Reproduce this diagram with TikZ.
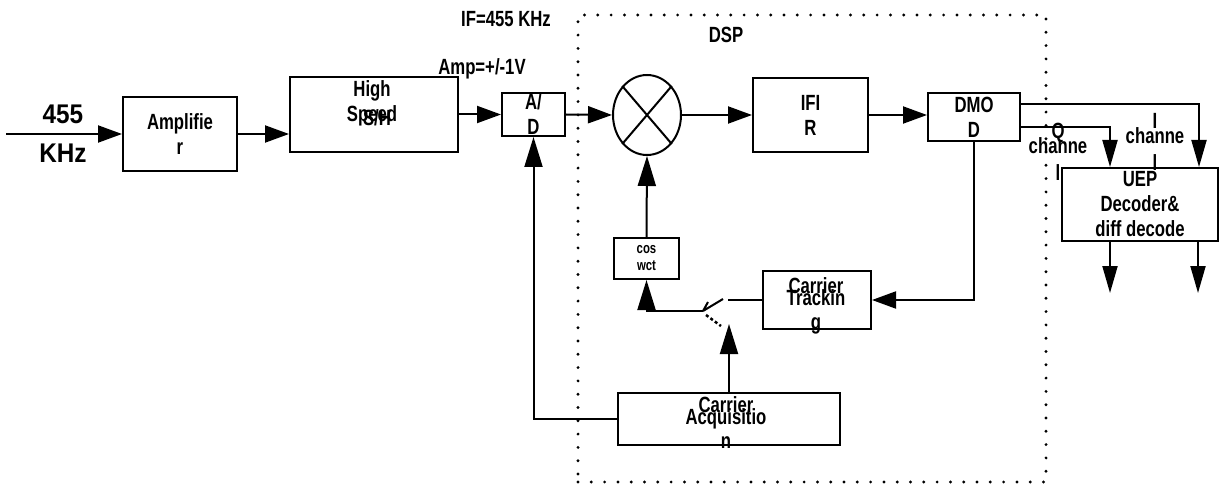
\documentclass[tikz,border=0pt]{standalone}
\usepackage{fontspec}
\setmainfont{Liberation Sans}[FakeStretch=0.76]
\newfontfamily\bigfont{Liberation Sans}[FakeStretch=0.9]
\usetikzlibrary{arrows.meta, positioning, calc, shapes.geometric}

\begin{document}
\begin{tikzpicture}[x=1pt, y=-1pt, line width=2pt,
    every node/.style={font=\fontsize{22}{25}\selectfont\bfseries, align=center, inner sep=0pt},
    blk/.style={draw},
    hto/.style={-{Triangle[length=24pt, width=17pt]}},
    vto/.style={-{Triangle[length=30pt, width=18pt]}},
    dto/.style={-{Triangle[length=27pt, width=15pt]}},
    dspbox/.style={draw, line width=3.2pt, line cap=round, dash pattern=on 0pt off 13.3pt}]
    \useasboundingbox (0,0) rectangle (1219,484);

    \node[dspbox, minimum width=468pt, minimum height=467pt] (dsp) at (812,248.5) {};
    \node (dsplbl) at (726,35) {DSP};
    \node (iflbl) at (506,19.5) {IF=455 KHz};
    \node (amplbl) at (482,68.5) {Amp=+/-1V};
    \node[font=\fontsize{27}{30}\bigfont\bfseries] (srclbl) at (63,134) {455\\[9pt]KHz};

    \node[blk, minimum width=114pt, minimum height=74pt] (amp) at (180,134) {Amplifie\\r};
    \node[blk, minimum width=168pt, minimum height=75pt] (hs) at (374,114.5) {};
    \node (hstxt) at (372,103.5) {High\\Speed};
    \node (shtxt) at (377,117.5) {S/H};
    \node[blk, minimum width=63pt, minimum height=43pt] (ad) at (533.5,114.5) {A/\\D};
    \node[draw, ellipse, minimum width=68pt, minimum height=80pt] (mix) at (647,115) {};
    \node[blk, minimum width=115pt, minimum height=74pt] (ifir) at (810.5,115) {IFI\\R};
    \node[blk, minimum width=92pt, minimum height=48pt] (dmod) at (974,117) {DMO\\D};
    \node[blk, minimum width=156pt, minimum height=73pt] (uep) at (1140,204.5) {UEP\\Decoder\&\\diff decode};
    \node[blk, minimum width=65pt, minimum height=41pt, font=\fontsize{15}{17}\selectfont\bfseries] (cos) at (646.5,258.5) {cos\\wct};
    \node[blk, minimum width=108pt, minimum height=58pt] (trk) at (817,300) {};
    \node (trktxt) at (816,305.5) {Carrier\\[-13pt]Trackin\\[-1pt]g};
    \node[blk, minimum width=222pt, minimum height=52pt] (acq) at (728.5,419) {};
    \node (acqtxt) at (726,422.5) {Carrier\\[-13pt]Acquisitio\\[-1pt]n};
    \node (qlbl) at (1058,151.5) {Q\\[-10pt]channe\\[2pt]l};
    \node (ilbl) at (1155,141.5) {I\\[-10pt]channe\\[2pt]l};

    \draw (mix.north west) -- (mix.south east) (mix.north east) -- (mix.south west);

    \coordinate (src) at (6,134);
    \coordinate (ibend) at (1199,104);
    \coordinate (qbend) at (1110,127);
    \coordinate (qout) at (1110,293);
    \coordinate (iout) at (1198,293);
    \coordinate (sw) at (703,311);
    \coordinate (swarm) at (723,299);
    \coordinate (swin) at (728,300);
    \coordinate (swtip) at (729,324);

    \draw[hto] (src) -- (amp);
    \draw[hto] (amp.east) -- (amp.east -| hs.west);
    \draw[hto] (hs.east) -- (ad.west);
    \draw[hto] (ad.east) -- (mix.west);
    \draw[hto] (mix.east) -- (ifir.west);
    \draw[hto] (ifir.east) -- (ifir.east -| dmod.west);
    \draw[dto] (dmod.east |- ibend) -| (uep.north -| ibend);
    \draw[dto] (dmod.east |- qbend) -| (uep.north -| qbend);
    \draw[dto] (uep.south -| qout) -- (qout);
    \draw[dto] (uep.south -| iout) -- (iout);
    \draw[hto] (dmod.south) |- (trk.east);

    % switch
    \draw (trk.west) -- (swin);
    \draw (sw) -- (swarm) (sw) -- ++(5,-9);
    \draw[line width=2.5pt, dash pattern=on 3pt off 2.5pt] (706,315) -- (721,326);
    \draw[vto] (sw) -| (cos.south);
    \draw[vto] (cos.north) -- (mix.south);
    \draw[vto] (acq.north -| swtip) -- (swtip);
    \draw[vto] (acq.west) -| (ad.south);
\end{tikzpicture}
\end{document}
